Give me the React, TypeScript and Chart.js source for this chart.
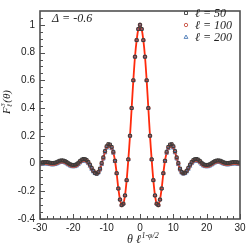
import React, { useEffect, useRef } from 'react';
import { Chart, registerables } from 'chart.js';

Chart.register(...registerables);

// theta * l^(1-phi/2)
const X_VALUES = [
  -30, -29.5, -29, -28.5, -28, -27.5, -27, -26.5, -26, -25.5, -25, -24.5, -24, -23.5, -23, -22.5, -22, -21.5, -21, -20.5,
  -20, -19.5, -19, -18.5, -18, -17.5, -17, -16.5, -16, -15.5, -15, -14.5, -14, -13.5, -13, -12.5, -12, -11.5, -11, -10.5,
  -10, -9.5, -9, -8.5, -8, -7.5, -7, -6.5, -6, -5.5, -5, -4.5, -4, -3.5, -3, -2.5, -2, -1.5, -1, -0.5,
  0, 0.5, 1, 1.5, 2, 2.5, 3, 3.5, 4, 4.5, 5, 5.5, 6, 6.5, 7, 7.5, 8, 8.5, 9, 9.5,
  10, 10.5, 11, 11.5, 12, 12.5, 13, 13.5, 14, 14.5, 15, 15.5, 16, 16.5, 17, 17.5, 18, 18.5, 19, 19.5,
  20, 20.5, 21, 21.5, 22, 22.5, 23, 23.5, 24, 24.5, 25, 25.5, 26, 26.5, 27, 27.5, 28, 28.5, 29, 29.5, 30,
];

// l = 50 (squares)
const L50 = [
  0.006, 0.008, 0.01, 0.011, 0.011, 0.009, 0.006, 0.004, 0.004, 0.006, 0.01, 0.016, 0.021, 0.023, 0.022, 0.018, 0.011, 0.003, -0.004, -0.009,
  -0.01, -0.009, -0.004, 0.006, 0.018, 0.028, 0.033, 0.032, 0.025, 0.012, -0.008, -0.031, -0.052, -0.068, -0.074, -0.062, -0.036, 0.004, 0.045, 0.09,
  0.125, 0.14, 0.137, 0.12, 0.085, 0.02, -0.07, -0.18, -0.26, -0.3, -0.29, -0.23, -0.12, 0.03, 0.2, 0.4, 0.6, 0.77, 0.89, 0.97,
  1.0, 0.97, 0.89, 0.77, 0.6, 0.4, 0.2, 0.03, -0.12, -0.23, -0.29, -0.3, -0.26, -0.18, -0.07, 0.02, 0.085, 0.12, 0.137, 0.14,
  0.125, 0.09, 0.045, 0.004, -0.036, -0.06, -0.07, -0.066, -0.052, -0.031, -0.008, 0.012, 0.025, 0.032, 0.033, 0.028, 0.018, 0.006, -0.004, -0.009,
  -0.01, -0.009, -0.004, 0.003, 0.011, 0.018, 0.022, 0.023, 0.021, 0.016, 0.01, 0.006, 0.004, 0.004, 0.006, 0.009, 0.011, 0.011, 0.01, 0.008, 0.006,
];

// l = 100 (circles, with the solid line)
const L100 = [
  0.0, 0.002, 0.004, 0.005, 0.005, 0.003, 0.0, -0.002, -0.002, 0.0, 0.004, 0.01, 0.015, 0.017, 0.016, 0.012, 0.005, -0.003, -0.01, -0.015,
  -0.016, -0.015, -0.01, 0.0, 0.012, 0.022, 0.027, 0.026, 0.02, 0.007, -0.012, -0.034, -0.053, -0.066, -0.07, -0.062, -0.04, 0.0, 0.04, 0.085,
  0.12, 0.135, 0.13, 0.115, 0.08, 0.02, -0.07, -0.18, -0.26, -0.3, -0.29, -0.23, -0.12, 0.03, 0.2, 0.4, 0.6, 0.77, 0.89, 0.97,
  1.0, 0.97, 0.89, 0.77, 0.6, 0.4, 0.2, 0.03, -0.12, -0.23, -0.29, -0.3, -0.26, -0.18, -0.07, 0.02, 0.08, 0.115, 0.13, 0.135,
  0.12, 0.085, 0.04, 0.0, -0.04, -0.062, -0.07, -0.066, -0.053, -0.034, -0.012, 0.007, 0.02, 0.026, 0.027, 0.022, 0.012, 0.0, -0.01, -0.015,
  -0.016, -0.015, -0.01, -0.003, 0.005, 0.012, 0.016, 0.017, 0.015, 0.01, 0.004, 0.0, -0.002, -0.002, 0.0, 0.003, 0.005, 0.005, 0.004, 0.002, 0.0,
];

// l = 200 (triangles)
const L200 = [
  -0.007, -0.005, -0.003, -0.002, -0.002, -0.004, -0.007, -0.009, -0.009, -0.007, -0.003, 0.003, 0.008, 0.01, 0.009, 0.005, -0.002, -0.01, -0.017, -0.022,
  -0.023, -0.022, -0.017, -0.007, 0.005, 0.015, 0.02, 0.019, 0.013, 0.0, -0.019, -0.041, -0.06, -0.072, -0.076, -0.068, -0.046, -0.007, 0.033, 0.078,
  0.112, 0.127, 0.123, 0.108, 0.075, 0.015, -0.07, -0.18, -0.26, -0.3, -0.29, -0.23, -0.12, 0.03, 0.2, 0.4, 0.6, 0.77, 0.89, 0.97,
  1.0, 0.97, 0.89, 0.77, 0.6, 0.4, 0.2, 0.03, -0.12, -0.23, -0.29, -0.3, -0.26, -0.18, -0.07, 0.015, 0.075, 0.108, 0.123, 0.127,
  0.112, 0.078, 0.033, -0.007, -0.046, -0.068, -0.076, -0.072, -0.06, -0.041, -0.019, 0.0, 0.013, 0.019, 0.02, 0.015, 0.005, -0.007, -0.017, -0.022,
  -0.023, -0.022, -0.017, -0.01, -0.002, 0.005, 0.009, 0.01, 0.008, 0.003, -0.003, -0.007, -0.009, -0.009, -0.007, -0.004, -0.002, -0.002, -0.003, -0.005, -0.007,
];

const SERIES_LABELS = ['ℓ = 50', 'ℓ = 100', 'ℓ = 200'];
const X_TICKS = [-30, -20, -10, 0, 10, 20, 30];
const Y_TICKS = [-0.4, -0.2, 0, 0.2, 0.4, 0.6, 0.8, 1];
const ANNOTATION = 'Δ = -0.6';

const COLORS = {
  square: '#3c3c3c',
  circle: '#c8503f',
  triangle: '#4a79b5',
  line: '#ff2a0c',
  axis: '#505050',
  text: '#222222',
};

const SERIF = '"Liberation Serif", "DejaVu Serif", serif';
const SANS = '"Liberation Sans", Arial, sans-serif';

function toPoints(ys: number[]) {
  return X_VALUES.map((x, i) => ({ x, y: ys[i] }));
}

function drawMarker(ctx: CanvasRenderingContext2D, kind: string, x: number, y: number, color: string) {
  ctx.save();
  ctx.strokeStyle = color;
  ctx.lineWidth = 0.9;
  ctx.beginPath();
  if (kind === 'rect') {
    ctx.rect(x - 1.5, y - 1.5, 3, 3);
  } else if (kind === 'circle') {
    ctx.arc(x, y, 1.7, 0, Math.PI * 2);
  } else {
    ctx.moveTo(x, y - 2);
    ctx.lineTo(x + 1.9, y + 1.4);
    ctx.lineTo(x - 1.9, y + 1.4);
    ctx.closePath();
  }
  ctx.stroke();
  ctx.restore();
}

const decorPlugin = {
  id: 'decor',
  afterDatasetsDraw(chart: any) {
    const ctx: CanvasRenderingContext2D = chart.ctx;
    const { left, right, top, bottom } = chart.chartArea;
    const xs = chart.scales.x;
    const ys = chart.scales.y;
    ctx.save();

    // tick marks (major + minor), pointing inward
    ctx.strokeStyle = COLORS.axis;
    ctx.lineWidth = 1;
    for (let i = 0; i <= 30; i++) {
      const v = -30 + i * 2;
      const px = Math.round(xs.getPixelForValue(v)) + 0.5;
      const len = v % 10 === 0 ? 5 : 3;
      ctx.beginPath();
      ctx.moveTo(px, bottom);
      ctx.lineTo(px, bottom - len);
      ctx.stroke();
    }
    for (let i = 0; i <= 29; i++) {
      const v = -0.4 + i * 0.05;
      const py = Math.round(ys.getPixelForValue(v)) + 0.5;
      if (py < top) break;
      const len = i % 4 === 0 ? 5 : 3;
      ctx.beginPath();
      ctx.moveTo(left, py);
      ctx.lineTo(left + len, py);
      ctx.stroke();
    }

    // frame
    ctx.strokeStyle = COLORS.axis;
    ctx.lineWidth = 1.6;
    ctx.strokeRect(left, top, right - left, bottom - top);

    // legend
    const kinds = ['rect', 'circle', 'triangle'];
    const mcolors = [COLORS.square, COLORS.circle, COLORS.triangle];
    ctx.font = `italic 12px ${SERIF}`;
    ctx.fillStyle = COLORS.text;
    ctx.textBaseline = 'middle';
    ctx.textAlign = 'left';
    SERIES_LABELS.forEach((lab, i) => {
      const y = 13 + i * 12;
      drawMarker(ctx, kinds[i], 186, y, mcolors[i]);
      ctx.fillText(lab, 195, y + 0.5);
    });

    // annotation
    ctx.font = `italic 12px ${SERIF}`;
    ctx.fillText(ANNOTATION, 52, 18.5);

    // x title: θ ℓ^(1-φ/2)
    ctx.textBaseline = 'alphabetic';
    ctx.font = `italic 12px ${SERIF}`;
    let x = 127;
    ctx.fillText('θ ℓ', x, 243);
    x += ctx.measureText('θ ℓ').width + 0.5;
    ctx.font = `italic 8px ${SERIF}`;
    ctx.fillText('1-φ/2', x, 238);

    // y title: F^3_ℓ(θ)
    ctx.save();
    ctx.translate(9.5, 102);
    ctx.rotate(-Math.PI / 2);
    ctx.font = `italic 11px ${SERIF}`;
    const wF = ctx.measureText('F').width;
    const wP = ctx.measureText('(θ)').width;
    ctx.font = `italic 7px ${SERIF}`;
    const wS = Math.max(ctx.measureText('3').width, ctx.measureText('ℓ').width);
    const total = wF + wS + 1 + wP;
    let cx = -total / 2;
    ctx.font = `italic 11px ${SERIF}`;
    ctx.fillText('F', cx, 0);
    cx += wF + 0.5;
    ctx.font = `italic 7px ${SERIF}`;
    ctx.fillText('3', cx, -5);
    ctx.fillText('ℓ', cx, 2.5);
    cx += wS + 0.5;
    ctx.font = `italic 11px ${SERIF}`;
    ctx.fillText('(θ)', cx, 0);
    ctx.restore();

    ctx.restore();
  },
};

export default function App() {
  const canvasRef = useRef<HTMLCanvasElement | null>(null);

  useEffect(() => {
    const canvas = canvasRef.current;
    if (!canvas) return;
    const common = {
      showLine: false,
      pointRadius: 1.8,
      pointBorderWidth: 1,
      pointBackgroundColor: 'rgba(255,255,255,0)',
    };
    const chart = new Chart(canvas, {
      type: 'scatter',
      data: {
        datasets: [
          {
            ...common,
            label: SERIES_LABELS[0],
            data: toPoints(L50),
            pointStyle: 'rect',
            pointRadius: 2,
            borderColor: COLORS.square,
            pointBorderColor: COLORS.square,
          },
          {
            ...common,
            label: SERIES_LABELS[1],
            data: toPoints(L100),
            pointStyle: 'circle',
            borderColor: COLORS.circle,
            pointBorderColor: COLORS.circle,
          },
          {
            ...common,
            label: SERIES_LABELS[2],
            data: toPoints(L200),
            pointStyle: 'triangle',
            pointRadius: 2.1,
            borderColor: COLORS.triangle,
            pointBorderColor: COLORS.triangle,
          },
          {
            label: 'line',
            data: toPoints(L100),
            showLine: true,
            pointRadius: 0,
            borderColor: COLORS.line,
            borderWidth: 1.8,
            tension: 0.35,
            fill: false,
          },
        ],
      },
      options: {
        animation: false,
        responsive: false,
        maintainAspectRatio: false,
        layout: { padding: { left: 0, right: 9, top: 4, bottom: 0 } },
        plugins: {
          legend: { display: false },
          tooltip: { enabled: false },
        },
        scales: {
          x: {
            type: 'linear',
            min: -30,
            max: 30,
            afterFit: (s: any) => {
              s.height = 30;
            },
            afterBuildTicks: (s: any) => {
              s.ticks = X_TICKS.map((v) => ({ value: v }));
            },
            grid: { display: false, drawTicks: false },
            border: { display: false },
            ticks: {
              padding: 3,
              color: COLORS.text,
              font: { family: SANS, size: 10 },
              maxRotation: 0,
              callback: (v: any) => String(v),
            },
          },
          y: {
            type: 'linear',
            min: -0.4,
            max: 1.1,
            afterFit: (s: any) => {
              s.width = 40;
            },
            afterBuildTicks: (s: any) => {
              s.ticks = Y_TICKS.map((v) => ({ value: v }));
            },
            grid: { display: false, drawTicks: false },
            border: { display: false },
            ticks: {
              padding: 5,
              color: COLORS.text,
              font: { family: SANS, size: 10 },
              callback: (v: any) => {
                const n = Math.round(Number(v) * 10) / 10;
                if (n === 0) return '0';
                if (n === 1) return '1';
                return n.toFixed(1);
              },
            },
          },
        },
      },
      plugins: [decorPlugin],
    } as any);
    return () => chart.destroy();
  }, []);

  return (
    <div style={{ position: 'absolute', left: 0, top: 0, width: 249, height: 249, background: '#fff' }}>
      <canvas ref={canvasRef} width={249} height={249} style={{ width: 249, height: 249, display: 'block' }} />
    </div>
  );
}
